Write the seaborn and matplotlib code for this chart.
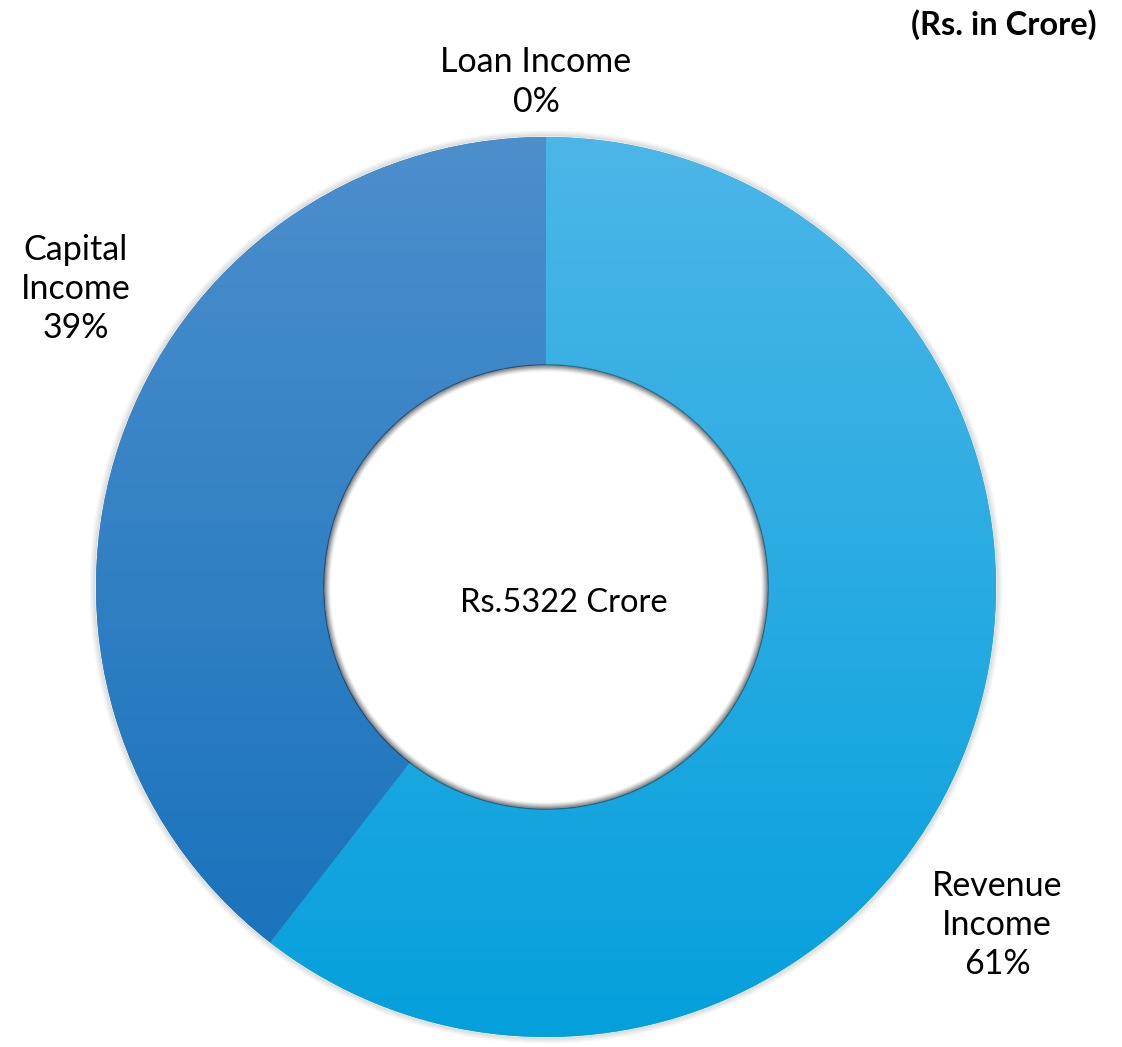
import numpy as np
import matplotlib
matplotlib.use("Agg")
import matplotlib.pyplot as plt
import seaborn as sns
from matplotlib.colors import LinearSegmentedColormap
from matplotlib.patches import Circle

sns.set_theme(style="white")
plt.rcParams['font.family'] = ['Lato', 'DejaVu Sans']

# data (Rs. in Crore)
labels = ['Revenue\nIncome', 'Capital\nIncome', 'Loan Income']
values = [3220, 2100, 2]
total_label = 'Rs.5322 Crore'
unit_note = '(Rs. in Crore)'

# gradient colours per slice (top -> bottom)
grad_top = ['#4cb6e8', '#4c8fcd', '#4c8fcd']
grad_bot = ['#04a0dc', '#1470ba', '#1470ba']

W, H = 1122, 1047
fig = plt.figure(figsize=(W / 100, H / 100), dpi=100)
ax = fig.add_axes([0, 0, 1, 1])

cx, cy = 546, H - 587
R, r_in = 450, 222

wedges, _ = ax.pie(values, startangle=90, counterclock=False, center=(cx, cy),
                   radius=R, wedgeprops=dict(width=R - r_in, linewidth=0),
                   frame=True)
ax.set_xlim(0, W)
ax.set_ylim(0, H)
ax.set_aspect('equal')
ax.axis('off')

# soft outer shadow
for k in range(6):
    ax.add_patch(Circle((cx, cy), R + 1 + k, fill=False, lw=1.2,
                        ec='black', alpha=0.09 * (1 - k / 6), zorder=0))

grad = np.linspace(0, 1, 256).reshape(-1, 1)
for w, ct, cb in zip(wedges, grad_top, grad_bot):
    w.set_facecolor(cb)
    cmap = LinearSegmentedColormap.from_list('g', [cb, ct])
    im = ax.imshow(grad, cmap=cmap, origin='lower', aspect='auto',
                   extent=(cx - R, cx + R, cy - R, cy + R), zorder=2)
    im.set_clip_path(w)

# inner shadow on the hole rim
for k in range(8):
    ax.add_patch(Circle((cx, cy), r_in - k * 0.9, fill=False, lw=1.3,
                        ec='black', alpha=0.32 * (1 - k / 8) ** 1.5, zorder=3))

pcts = [round(100 * v / sum(values)) for v in values]
fs = 24.5
ls = 1.28
ax.text(997, H - 925, f'{labels[0]}\n{pcts[0]}%', ha='center', va='center',
        fontsize=fs, linespacing=ls, color='black')
ax.text(76, H - 289, f'{labels[1]}\n{pcts[1]}%', ha='center', va='center',
        fontsize=fs, linespacing=ls, color='black')
ax.text(536, H - 82, f'{labels[2]}\n{pcts[2]}%', ha='center', va='center',
        fontsize=fs, linespacing=ls, color='black')
ax.text(564, H - 603, total_label, ha='center', va='center', fontsize=23.5,
        color='black')
ax.text(1097, H - 25, unit_note, ha='right', va='center', fontsize=23.5,
        fontweight='bold', color='black')

fig.savefig('out.png', dpi=100)
